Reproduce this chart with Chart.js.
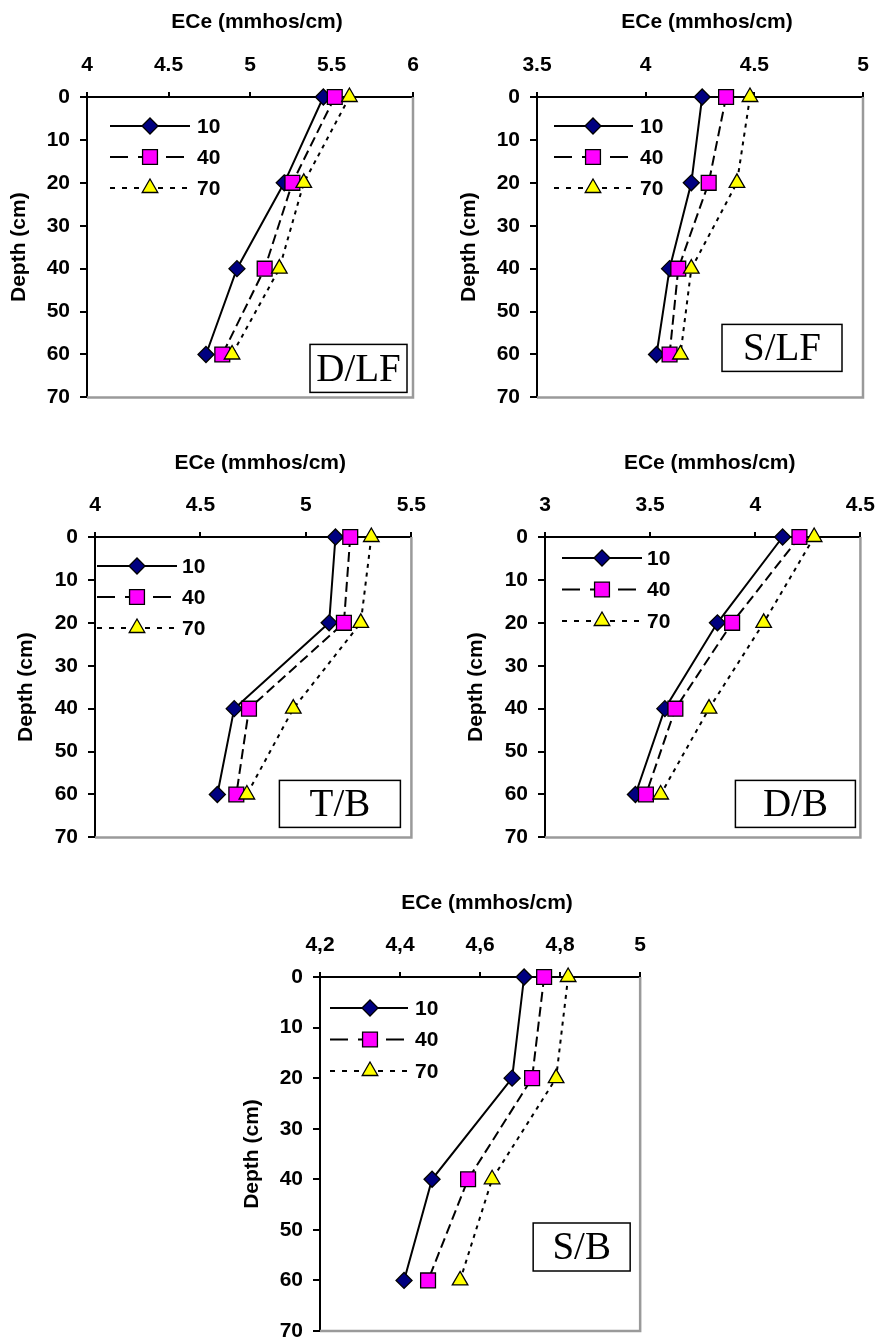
<!DOCTYPE html>
<html>
<head>
<meta charset="utf-8">
<script src="https://cdn.jsdelivr.net/npm/chart.js@4.4.1/dist/chart.umd.min.js"></script>
<style>
  html, body { margin: 0; padding: 0; background: #fff; overflow: hidden; }
  #wrap { position: relative; width: 889px; height: 1340px; }
  canvas { position: absolute; }
</style>
</head>
<body>
<div id="wrap">
  <canvas id="c1"></canvas>
  <canvas id="c2"></canvas>
  <canvas id="c3"></canvas>
  <canvas id="c4"></canvas>
  <canvas id="c5"></canvas>
</div>
<script>
// depths sampled (cm) and series names (legend)
const depths = [0, 20, 40, 60];
const seriesNames = ["10", "40", "70"];
const depthTicks = [0, 10, 20, 30, 40, 50, 60, 70];

// D/LF
const dlf10 = [5.45, 5.21, 4.92, 4.73];
const dlf40 = [5.52, 5.26, 5.09, 4.83];
const dlf70 = [5.61, 5.33, 5.18, 4.89];
const dlfTicks = [4, 4.5, 5, 5.5, 6];
const dlfTickLabels = ["4", "4.5", "5", "5.5", "6"];

// S/LF
const slf10 = [4.26, 4.21, 4.11, 4.05];
const slf40 = [4.37, 4.29, 4.15, 4.11];
const slf70 = [4.48, 4.42, 4.21, 4.16];
const slfTicks = [3.5, 4, 4.5, 5];
const slfTickLabels = ["3.5", "4", "4.5", "5"];

// T/B
const tb10 = [5.14, 5.11, 4.66, 4.58];
const tb40 = [5.21, 5.18, 4.73, 4.67];
const tb70 = [5.31, 5.26, 4.94, 4.72];
const tbTicks = [4, 4.5, 5, 5.5];
const tbTickLabels = ["4", "4.5", "5", "5.5"];

// D/B
const db10 = [4.13, 3.82, 3.57, 3.43];
const db40 = [4.21, 3.89, 3.62, 3.48];
const db70 = [4.28, 4.04, 3.78, 3.55];
const dbTicks = [3, 3.5, 4, 4.5];
const dbTickLabels = ["3", "3.5", "4", "4.5"];

// S/B
const sb10 = [4.71, 4.68, 4.48, 4.41];
const sb40 = [4.76, 4.73, 4.57, 4.47];
const sb70 = [4.82, 4.79, 4.63, 4.55];
const sbTicks = [4.2, 4.4, 4.6, 4.8, 5];
const sbTickLabels = ["4,2", "4,4", "4,6", "4,8", "5"];

const FONT = "'Liberation Sans', Arial, sans-serif";
const axisFont = { family: FONT, size: 21, weight: "bold" };

// layout of each panel: canvas [left, top, w, h], plot area inside canvas [l, t, r, b]
const panels = [
  { id: "c1", name: "D/LF", series: [dlf10, dlf40, dlf70], ticks: dlfTicks, labels: dlfTickLabels,
    canvas: [0, 0, 440, 420], area: [87, 97, 413, 403], padL: 0, padT: 0,
    legend: { x0: 23, x1: 103, mx: 63, tx: 110, y0: 29, dy: 31 },
    box: { r: 6, b: 5, w: 97, h: 48 } },
  { id: "c2", name: "S/LF", series: [slf10, slf40, slf70], ticks: slfTicks, labels: slfTickLabels,
    canvas: [440, 0, 449, 420], area: [97, 97, 423, 403], padL: 10, padT: 0,
    legend: { x0: 17, x1: 96, mx: 56, tx: 103, y0: 29, dy: 31 },
    box: { r: 21, b: 26, w: 120, h: 47 } },
  { id: "c3", name: "T/B", series: [tb10, tb40, tb70], ticks: tbTicks, labels: tbTickLabels,
    canvas: [0, 420, 440, 440], area: [95, 117, 421, 423], padL: 7, padT: 21,
    legend: { x0: 2, x1: 82, mx: 42, tx: 87, y0: 29, dy: 31 },
    box: { r: 11, b: 10, w: 121, h: 47 } },
  { id: "c4", name: "D/B", series: [db10, db40, db70], ticks: dbTicks, labels: dbTickLabels,
    canvas: [440, 420, 449, 440], area: [105, 117, 431, 423], padL: 17, padT: 21,
    legend: { x0: 17, x1: 97, mx: 57, tx: 102, y0: 21, dy: 31.5 },
    box: { r: 5, b: 10, w: 120, h: 47 } },
  { id: "c5", name: "S/B", series: [sb10, sb40, sb70], ticks: sbTicks, labels: sbTickLabels,
    canvas: [220, 860, 440, 500], area: [100, 117, 425, 471], padL: 13, padT: 21,
    legend: { x0: 10, x1: 88, mx: 50, tx: 95, y0: 31, dy: 31.5 },
    box: { r: 10, b: 60, w: 97, h: 48 } }
];

const lineDash = [[], [10, 5], [4, 5]];
const legendDash = [[], [18, 10], [5, 7]];
const markers = [
  { style: "rectRot", radius: 8, fill: "#000080" },
  { style: "rect", radius: 10.5, fill: "#FF00FF" },
  { style: "triangle", radius: 9, fill: "#FFFF00" }
];

// gray right/bottom border of the plot area
const plotFrame = {
  id: "plotFrame",
  beforeDatasetsDraw(chart) {
    const { ctx, chartArea: a } = chart;
    ctx.save();
    ctx.strokeStyle = "#9a9a9a";
    ctx.lineWidth = 2.5;
    ctx.beginPath();
    ctx.moveTo(a.right, a.top);
    ctx.lineTo(a.right, a.bottom);
    ctx.lineTo(a.left, a.bottom);
    ctx.stroke();
    ctx.restore();
  }
};

// x title sits a little right of the plot centre in the original
const topTitle = {
  id: "topTitle",
  afterDraw(chart, args, opts) {
    const { ctx, chartArea: a } = chart;
    ctx.save();
    ctx.fillStyle = "#000";
    ctx.font = "bold 21px " + FONT;
    ctx.textAlign = "center";
    ctx.textBaseline = "middle";
    ctx.fillText(opts.text, (a.left + a.right) / 2 + 7, opts.y);
    ctx.restore();
  }
};

// legend drawn inside the plot (line + marker + label)
const insideLegend = {
  id: "insideLegend",
  afterDatasetsDraw(chart, args, opts) {
    const { ctx, chartArea: a } = chart;
    chart.data.datasets.forEach((ds, i) => {
      const y = a.top + opts.y0 + i * opts.dy;
      ctx.save();
      ctx.strokeStyle = ds.borderColor;
      ctx.lineWidth = ds.borderWidth;
      ctx.setLineDash(legendDash[i]);
      ctx.beginPath();
      ctx.moveTo(a.left + opts.x0, y);
      ctx.lineTo(a.left + opts.x1, y);
      ctx.stroke();
      ctx.setLineDash([]);
      ctx.fillStyle = ds.pointBackgroundColor;
      ctx.strokeStyle = ds.pointBorderColor;
      ctx.lineWidth = ds.pointBorderWidth;
      Chart.helpers.drawPoint(ctx, {
        pointStyle: ds.pointStyle, radius: ds.pointRadius,
        borderWidth: ds.pointBorderWidth, rotation: 0
      }, a.left + opts.mx, y);
      ctx.fillStyle = "#000";
      ctx.font = "bold 21px " + FONT;
      ctx.textAlign = "left";
      ctx.textBaseline = "middle";
      ctx.fillText(ds.label, a.left + opts.tx, y + 1);
      ctx.restore();
    });
  }
};

// boxed treatment label in the lower right corner
const cornerLabel = {
  id: "cornerLabel",
  afterDraw(chart, args, opts) {
    const { ctx, chartArea: a } = chart;
    const x = a.right - opts.r - opts.w;
    const y = a.bottom - opts.b - opts.h;
    ctx.save();
    ctx.fillStyle = "#fff";
    ctx.fillRect(x, y, opts.w, opts.h);
    ctx.strokeStyle = "#000";
    ctx.lineWidth = 1.5;
    ctx.strokeRect(x, y, opts.w, opts.h);
    ctx.fillStyle = "#000";
    ctx.font = "39px 'Liberation Serif', 'Times New Roman', serif";
    ctx.textAlign = "center";
    ctx.textBaseline = "middle";
    ctx.fillText(opts.text, x + opts.w / 2, y + opts.h / 2 + 2);
    ctx.restore();
  }
};

panels.forEach(p => {
  const cv = document.getElementById(p.id);
  const [cl, ct, cw, ch] = p.canvas;
  cv.width = cw;
  cv.height = ch;
  cv.style.left = cl + "px";
  cv.style.top = ct + "px";
  cv.style.width = cw + "px";
  cv.style.height = ch + "px";

  const datasets = p.series.map((vals, i) => ({
    label: seriesNames[i],
    data: depths.map((d, j) => ({ x: vals[j], y: d })),
    borderColor: "#000",
    borderWidth: 2,
    borderDash: lineDash[i],
    tension: 0,
    fill: false,
    clip: false,
    pointStyle: markers[i].style,
    pointRadius: markers[i].radius,
    pointHoverRadius: markers[i].radius,
    pointBackgroundColor: markers[i].fill,
    pointBorderColor: "#000",
    pointBorderWidth: 1.3,
    order: 3 - i
  }));

  new Chart(cv.getContext("2d"), {
    type: "line",
    data: { datasets },
    options: {
      responsive: false,
      animation: false,
      devicePixelRatio: 1,
      layout: {
        padding: { left: p.padL, top: p.padT, right: cw - p.area[2], bottom: ch - p.area[3] }
      },
      plugins: {
        legend: { display: false },
        tooltip: { enabled: false },
        insideLegend: p.legend,
        cornerLabel: Object.assign({ text: p.name }, p.box),
        topTitle: { text: "ECe (mmhos/cm)", y: p.padT + 22 }
      },
      scales: {
        x: {
          type: "linear",
          position: "top",
          min: p.ticks[0],
          max: p.ticks[p.ticks.length - 1],
          afterBuildTicks: s => { s.ticks = p.ticks.map(v => ({ value: v })); },
          afterFit: s => { s.height = p.area[1] - p.padT; },
          ticks: {
            callback: (v, i) => p.labels[i],
            font: axisFont, color: "#000", padding: 14, maxRotation: 0, autoSkip: false
          },
          grid: { drawOnChartArea: false, color: "#000", lineWidth: 2, tickLength: 5 },
          border: { color: "#000", width: 2 }
        },
        y: {
          type: "linear",
          reverse: true,
          min: 0,
          max: 70,
          afterBuildTicks: s => { s.ticks = depthTicks.map(v => ({ value: v })); },
          afterFit: s => { s.width = p.area[0] - p.padL; },
          ticks: { font: axisFont, color: "#000", padding: 10 },
          grid: { drawOnChartArea: false, color: "#000", lineWidth: 2, tickLength: 7 },
          border: { color: "#000", width: 2 },
          title: { display: true, text: "Depth (cm)", font: axisFont, color: "#000",
                   padding: { top: 7, bottom: 0 } }
        }
      }
    },
    plugins: [plotFrame, insideLegend, cornerLabel, topTitle]
  });
});
</script>
</body>
</html>
